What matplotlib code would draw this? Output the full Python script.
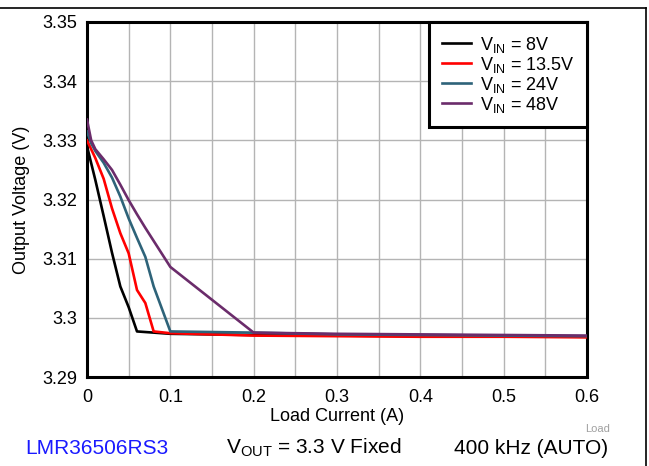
import matplotlib
matplotlib.use("Agg")
import matplotlib.pyplot as plt
from matplotlib.lines import Line2D
from matplotlib.ticker import MultipleLocator

plt.rcParams['font.family'] = ['Liberation Sans', 'DejaVu Sans']

# Data
x_8 = [0, 0.01, 0.02, 0.03, 0.04, 0.05, 0.06, 0.08, 0.1, 0.2, 0.3, 0.4, 0.5, 0.6]
v_8 = [3.3290, 3.3233, 3.3172, 3.3110, 3.3053, 3.3018, 3.2977, 3.2975, 3.2973, 3.2971, 3.2970, 3.2969, 3.2969, 3.2968]

x_135 = [0, 0.01, 0.02, 0.03, 0.04, 0.05, 0.06, 0.07, 0.08, 0.1, 0.2, 0.3, 0.4, 0.5, 0.6]
v_135 = [3.3300, 3.3270, 3.3235, 3.3185, 3.3143, 3.3109, 3.3047, 3.3025, 3.2977, 3.2974, 3.2970, 3.2969, 3.2968, 3.2968, 3.2967]

x_24 = [0, 0.005, 0.01, 0.02, 0.03, 0.04, 0.05, 0.06, 0.07, 0.08, 0.09, 0.1, 0.2, 0.3, 0.4, 0.5, 0.6]
v_24 = [3.3315, 3.3295, 3.3282, 3.3262, 3.3237, 3.3205, 3.3168, 3.3135, 3.3103, 3.3053, 3.3015, 3.2977, 3.2975, 3.2972, 3.2971, 3.2970, 3.2969]

x_48 = [0, 0.005, 0.01, 0.02, 0.03, 0.04, 0.05, 0.06, 0.07, 0.08, 0.09, 0.1, 0.2, 0.3, 0.4, 0.5, 0.6]
v_48 = [3.3335, 3.3300, 3.3285, 3.3268, 3.3250, 3.3225, 3.3199, 3.3175, 3.3152, 3.3130, 3.3108, 3.3086, 3.2975, 3.2973, 3.2972, 3.2971, 3.2970]

labels = ["V$_{\\mathregular{IN}}$ = 8V", "V$_{\\mathregular{IN}}$ = 13.5V",
          "V$_{\\mathregular{IN}}$ = 24V", "V$_{\\mathregular{IN}}$ = 48V"]
colors = ["#000000", "#FF0000", "#2E6379", "#6B2C6B"]

x_ticks = [0, 0.1, 0.2, 0.3, 0.4, 0.5, 0.6]
x_ticklabels = ["0", "0.1", "0.2", "0.3", "0.4", "0.5", "0.6"]
y_ticks = [3.29, 3.30, 3.31, 3.32, 3.33, 3.34, 3.35]
y_ticklabels = ["3.29", "3.3", "3.31", "3.32", "3.33", "3.34", "3.35"]

fig = plt.figure(figsize=(6.49, 4.66), dpi=100)
ax = fig.add_axes([87/649, 1-377/466, 500/649, 355/466])

for xs, vs, c, lab in zip([x_8, x_135, x_24, x_48], [v_8, v_135, v_24, v_48], colors, labels):
    ax.plot(xs, vs, color=c, lw=1.9, label=lab, zorder=3)

ax.set_xlim(0, 0.6)
ax.set_ylim(3.29, 3.35)
ax.set_xticks(x_ticks)
ax.set_xticklabels(x_ticklabels)
ax.xaxis.set_minor_locator(MultipleLocator(0.05))
ax.set_yticks(y_ticks)
ax.set_yticklabels(y_ticklabels)
ax.tick_params(axis='both', which='both', length=0, labelsize=13, colors='black')
ax.tick_params(axis='y', pad=7)
ax.tick_params(axis='x', pad=9)
ax.grid(True, which='both', axis='x', color='#b4b4b4', lw=1)
ax.grid(True, which='major', axis='y', color='#b4b4b4', lw=1)
for s in ax.spines.values():
    s.set_linewidth(2.2)
    s.set_color('black')

ax.set_xlabel("Load Current (A)", fontsize=13, labelpad=1)
ax.set_ylabel("Output Voltage (V)", fontsize=13, labelpad=9)

leg = ax.legend(loc='upper right', fontsize=13, frameon=True, fancybox=False,
                borderaxespad=0, handlelength=1.6, labelspacing=0.0,
                borderpad=0.7, handletextpad=0.5)
leg.get_frame().set_edgecolor('black')
leg.get_frame().set_linewidth(2.2)
leg.get_frame().set_alpha(1)

# Figure frame lines
fig.add_artist(Line2D([0, 646/649], [1-8/466, 1-8/466], color='black', lw=1.2, transform=fig.transFigure))
fig.add_artist(Line2D([646/649, 646/649], [1-8/466, 0], color='black', lw=1.2, transform=fig.transFigure))

fig.text(610/649, 1-429/466, "Load", fontsize=8, color='#a0a0a0', ha='right', va='center')
fig.text(25/649, 1-448/466, "LMR36506RS3", fontsize=15, color='#1a1aff', ha='left', va='center')
fig.text(226/649, 1-448/466, "V$_{\\mathregular{OUT}}$ = 3.3 V Fixed", fontsize=15, color='black', ha='left', va='center')
fig.text(608/649, 1-448/466, "400 kHz (AUTO)", fontsize=15, color='black', ha='right', va='center')

fig.savefig("out.png", dpi=100)
